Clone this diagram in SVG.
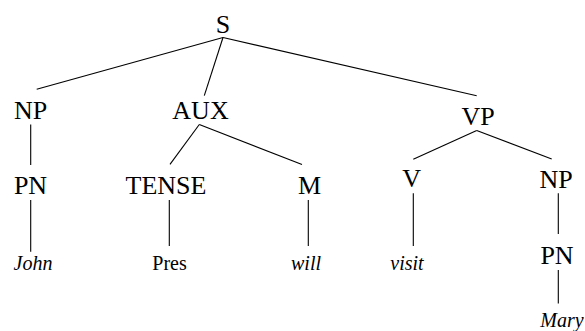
<svg xmlns="http://www.w3.org/2000/svg" width="585" height="331" viewBox="0 0 585 331">
<style>
.n{font-family:"Liberation Serif","Times New Roman",serif;font-size:26px;fill:#000;text-anchor:middle}
.l{font-family:"Liberation Serif","Times New Roman",serif;font-size:20px;fill:#000;text-anchor:middle}
.i{font-style:italic}
#edges line{stroke:#000;stroke-width:1.1}
</style>
<rect width="585" height="331" fill="#fff"/>
<g id="edges">
<line x1="223" y1="37.5" x2="36.7" y2="89.3"/>
<line x1="223" y1="37.5" x2="204.3" y2="95.7"/>
<line x1="223" y1="37.5" x2="476.7" y2="95.7"/>
<line x1="30.7" y1="124.5" x2="30.7" y2="165"/>
<line x1="30.7" y1="200" x2="30.7" y2="251.7"/>
<line x1="199.3" y1="124.5" x2="170" y2="164.3"/>
<line x1="199.3" y1="124.5" x2="302" y2="164.5"/>
<line x1="169.3" y1="200" x2="169.3" y2="246"/>
<line x1="308.3" y1="200" x2="308.3" y2="246"/>
<line x1="476.7" y1="130.5" x2="413.3" y2="159.3"/>
<line x1="476.7" y1="130.5" x2="551.7" y2="159"/>
<line x1="413.3" y1="193.3" x2="413.3" y2="246"/>
<line x1="558.3" y1="193.3" x2="558.3" y2="234"/>
<line x1="558.3" y1="270" x2="558.3" y2="303.5"/>
</g>
<g id="S"><text class="n" x="223" y="33">S</text></g>
<g id="NP1"><text class="n" x="30.5" y="119">NP</text></g>
<g id="AUX"><text class="n" x="200.5" y="119">AUX</text></g>
<g id="VP"><text class="n" x="478" y="125">VP</text></g>
<g id="PN1"><text class="n" x="30.5" y="194">PN</text></g>
<g id="TENSE"><text class="n" x="166" y="194">TENSE</text></g>
<g id="M"><text class="n" x="309.5" y="194">M</text></g>
<g id="V"><text class="n" x="411.7" y="187">V</text></g>
<g id="NP2"><text class="n" x="556" y="188">NP</text></g>
<g id="PN2"><text class="n" x="557" y="263.5">PN</text></g>
<g id="John"><text class="l i" x="33" y="270">John</text></g>
<g id="Pres"><text class="l" x="169.5" y="270">Pres</text></g>
<g id="will"><text class="l i" x="306" y="269.5">will</text></g>
<g id="visit"><text class="l i" x="407" y="269.5">visit</text></g>
<g id="Mary"><text class="l i" x="562" y="327">Mary</text></g>
</svg>
